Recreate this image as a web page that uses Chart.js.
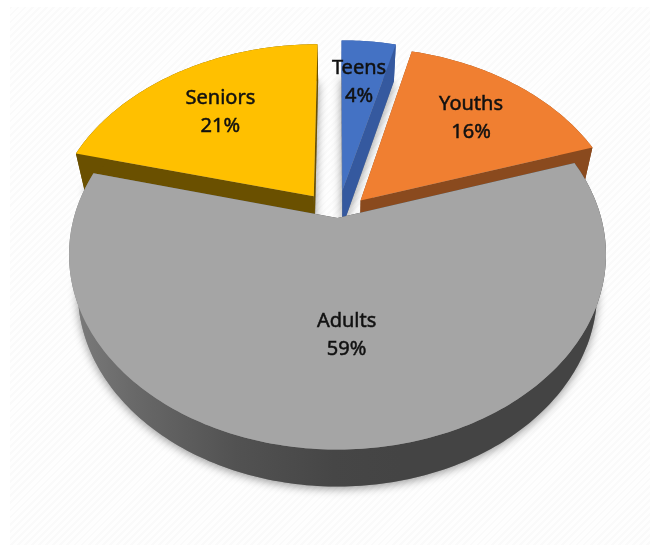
<!DOCTYPE html>
<html>
<head>
<meta charset="utf-8">
<script src="https://cdn.jsdelivr.net/npm/chart.js@4/dist/chart.umd.min.js"></script>
<style>
  html, body { margin: 0; padding: 0; background: #fff; }
  #wrap { position: relative; width: 650px; height: 545px; overflow: hidden; }
  #paper {
    position: absolute; left: 10px; top: 7px; width: 640px; height: 538px;
    background: repeating-linear-gradient(135deg, #fafafa 0 2px, #fefefe 2px 5px);
  }
  #pie { position: absolute; left: 0; top: 0; }
</style>
</head>
<body>
<div id="wrap">
  <div id="paper"></div>
  <canvas id="pie" width="650" height="545"></canvas>
</div>
<script>
// Age groups and their share of the total, in percent.
const categories = ['Teens', 'Youths', 'Adults', 'Seniors'];
const shares = [4, 16, 59, 21];
const topColors = ['#4472c4', '#f07f31', '#a5a5a5', '#ffc000'];
const sideColors = ['#35599f', '#8a4a1e', '#444444', '#6a5000'];
const explode = [38, 33, 0, 38];

// Perspective camera: unit-disc coordinates to screen pixels.
const camera = { x: 337.5, y: 218, a: 263.7, b: 188, k: 0.188, depth: 37, baseScale: 0.967 };

function project(u, v, lowered) {
  const w = 1 - camera.k * v;
  const xs = lowered ? camera.a * camera.baseScale : camera.a;
  return {
    x: camera.x + xs * u / w,
    y: camera.y + (lowered ? camera.depth : 0) + camera.b * v / w
  };
}

// Outline points of one wedge on the disc, taken from the arc element's own angles.
function wedge(arc) {
  const mid = (arc.startAngle + arc.endAngle) / 2;
  const shift = arc.options.offset / arc.outerRadius;
  const ox = Math.cos(mid) * shift;
  const oy = Math.sin(mid) * shift;
  const rim = [];
  const steps = Math.max(6, Math.ceil((arc.endAngle - arc.startAngle) / (Math.PI / 180)));
  for (let i = 0; i <= steps; i++) {
    const t = arc.startAngle + (arc.endAngle - arc.startAngle) * i / steps;
    rim.push([ox + Math.cos(t), oy + Math.sin(t)]);
  }
  return { apex: [ox, oy], rim, mid, ox, oy };
}

function tracePolygon(ctx, points) {
  ctx.beginPath();
  points.forEach((p, i) => i ? ctx.lineTo(p.x, p.y) : ctx.moveTo(p.x, p.y));
  ctx.closePath();
}

const facePoints = (w, lowered) =>
  [w.apex, ...w.rim].map(p => project(p[0], p[1], lowered));

const adultsSideFill = (ctx) => {
  const g = ctx.createLinearGradient(70, 0, 400, 0);
  g.addColorStop(0, '#7c7c7c');
  g.addColorStop(0.2, '#686868');
  g.addColorStop(0.5, '#525252');
  g.addColorStop(0.8, '#464646');
  g.addColorStop(1, '#444444');
  return g;
};

// Paints the extruded wedges back to front, then stops the flat arcs from drawing.
const solidPie = {
  id: 'solidPie',
  beforeDatasetDraw(chart, args) {
    const ctx = chart.ctx;
    const arcs = args.meta.data;
    const shapes = arcs.map((arc, i) => ({ i, w: wedge(arc) }));

    ctx.save();
    // Soft cast shadow under every wedge
    shapes.forEach(({ w }) => {
      ctx.save();
      ctx.shadowColor = 'rgba(0,0,0,0.42)';
      ctx.shadowBlur = 10;
      ctx.shadowOffsetY = 2;
      ctx.fillStyle = '#888';
      tracePolygon(ctx, facePoints(w, true));
      ctx.fill();
      ctx.restore();
    });

    shapes.slice().sort((p, q) => Math.sin(p.w.mid) - Math.sin(q.w.mid)).forEach(({ i, w }) => {
      const top = facePoints(w, false);
      const low = facePoints(w, true);
      const n = top.length;
      ctx.fillStyle = i === 2 ? adultsSideFill(ctx) : sideColors[i];
      // Two cut faces, then the curved rim as a single band
      [[top[0], top[1], low[1], low[0]],
       [top[0], top[n - 1], low[n - 1], low[0]],
       [...top.slice(1), ...low.slice(1).reverse()]].forEach(face => {
        tracePolygon(ctx, face);
        ctx.fill();
      });
      ctx.fillStyle = topColors[i];
      tracePolygon(ctx, top);
      ctx.fill();
    });
    ctx.restore();
    return false;
  },
  afterDatasetsDraw(chart, args, opts) {
    const ctx = chart.ctx;
    const arcs = chart.getDatasetMeta(0).data;
    ctx.save();
    ctx.fillStyle = '#111';
    ctx.strokeStyle = '#111';
    ctx.lineWidth = 0.5;
    ctx.textAlign = 'center';
    ctx.textBaseline = 'middle';
    ctx.font = '20px "Noto Sans"';
    arcs.forEach((arc, i) => {
      const w = wedge(arc);
      const f = opts.labelDepth[i];
      const p = project(w.ox + Math.cos(w.mid) * f, w.oy + Math.sin(w.mid) * f, false);
      const x = p.x + opts.labelNudge[i];
      [[categories[i], p.y - 11.5], [shares[i] + '%', p.y + 16.5]].forEach(([text, y]) => {
        ctx.fillText(text, x, y);
        ctx.strokeText(text, x, y);
      });
    });
    ctx.restore();
  }
};

new Chart(document.getElementById('pie'), {
  type: 'pie',
  data: {
    labels: categories,
    datasets: [{ data: shares, backgroundColor: topColors, offset: explode, borderWidth: 0 }]
  },
  options: {
    responsive: false,
    animation: false,
    layout: { padding: 0 },
    plugins: {
      legend: { display: false },
      tooltip: { enabled: false },
      solidPie: { labelDepth: [0.71, 0.7, 0.55, 0.67], labelNudge: [-3, -1, 4, 1] }
    }
  },
  plugins: [solidPie]
});
</script>
</body>
</html>
